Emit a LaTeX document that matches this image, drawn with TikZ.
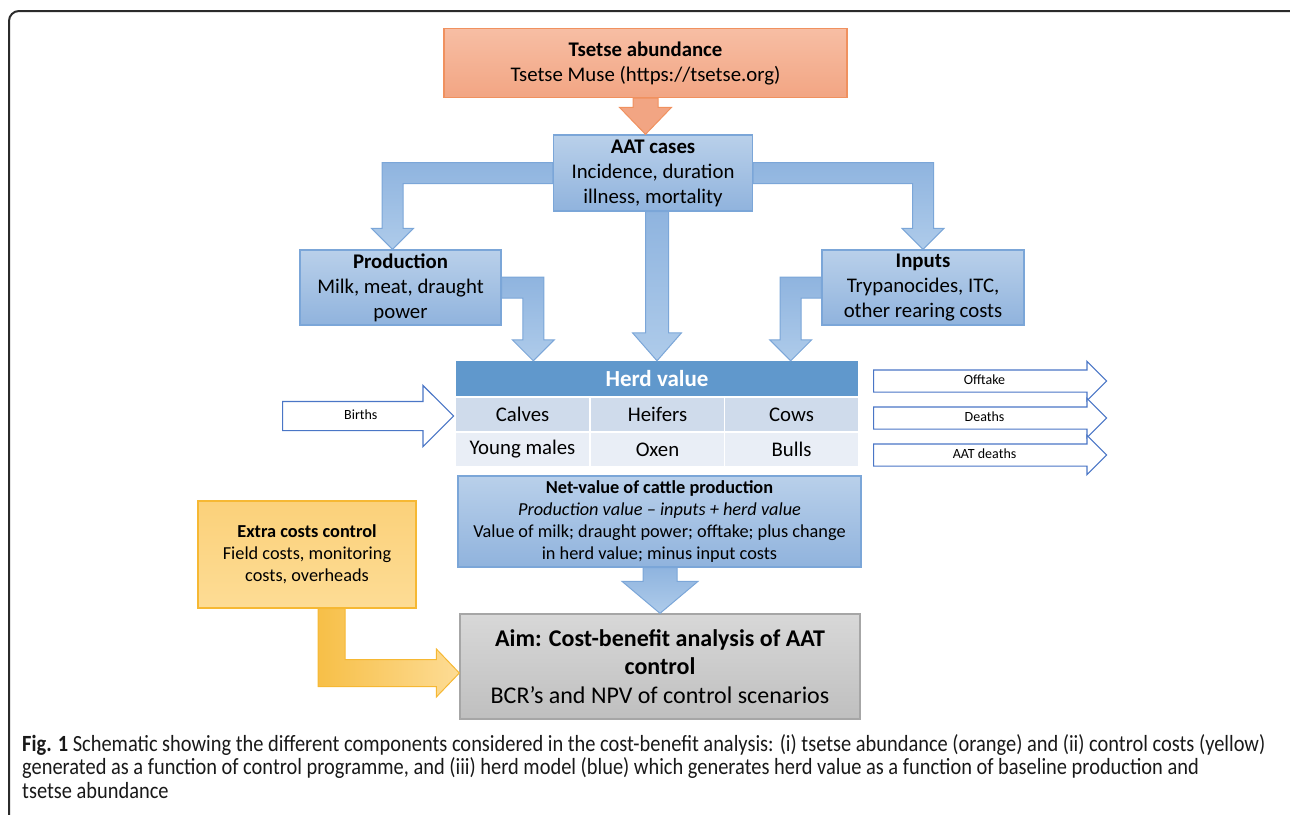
\documentclass[tikz,border=0pt]{standalone}
\usepackage{fontspec}
\setmainfont{Carlito}
\newfontfamily\capfont[FakeStretch=0.88]{Carlito}
\usepackage{tikz}
\usetikzlibrary{calc,shapes.arrows}
\definecolor{boxtop}{HTML}{B9D0EA}
\definecolor{boxbot}{HTML}{90B3DD}
\definecolor{boxline}{HTML}{7BA6D8}
\definecolor{arrtop}{HTML}{8FB4DF}
\definecolor{arrbot}{HTML}{AECBEA}
\definecolor{orangetop}{HTML}{F7BEA4}
\definecolor{orangebot}{HTML}{F2A583}
\definecolor{orangeline}{HTML}{F0915F}
\definecolor{yellowtop}{HTML}{FBD17A}
\definecolor{yellowbot}{HTML}{FDDC95}
\definecolor{yellowline}{HTML}{F6B833}
\definecolor{greytop}{HTML}{D8D8D8}
\definecolor{greybot}{HTML}{BFBFBF}
\definecolor{greyline}{HTML}{A6A6A6}
\definecolor{herdblue}{HTML}{6098CC}
\definecolor{rowa}{HTML}{CFDBEB}
\definecolor{rowb}{HTML}{E9EEF6}
\definecolor{outline}{HTML}{4A76C6}
\definecolor{framegrey}{HTML}{2B2B2B}

\begin{document}
\begin{tikzpicture}[x=1pt,y=-1pt,
  bandhalf/.store in=\bandw,headhalf/.store in=\headw,headlen/.store in=\headl,
  bandhalf=10.5pt,headhalf=21pt,headlen=21pt,
  bluebox/.style={rectangle,draw=boxline,line width=1.3pt,top color=boxtop,bottom color=boxbot,align=center,inner sep=0pt,font=\fontsize{20.8}{25}\selectfont},
  smallbox/.style={font=\fontsize{18.3}{22}\selectfont},
  cell/.style={rectangle,minimum width=133pt,minimum height=33pt,inner sep=0pt,font=\fontsize{20.8}{25}\selectfont},
  flowarrow/.style={single arrow,draw=outline,fill=white,line width=1.2pt,inner xsep=0pt,text height=10pt,text depth=3pt,font=\fontsize{14}{16}\selectfont},
  bluearrow/.style={draw=boxline,line width=1pt,top color=arrtop,bottom color=arrbot},
  elbowleft/.style={to path={let \p1=(\tikztostart),\p2=(\tikztotarget) in
    (\x1,\y1+\bandw) -- (\x2-\bandw,\y1+\bandw) -- (\x2-\bandw,\y2+\headl) -- (\x2-\headw,\y2+\headl) -- (\x2,\y2) -- (\x2+\headw,\y2+\headl) -- (\x2+\bandw,\y2+\headl) -- (\x2+\bandw,\y1-\bandw) -- (\x1,\y1-\bandw) -- cycle}},
  elbowright/.style={to path={let \p1=(\tikztostart),\p2=(\tikztotarget) in
    (\x1,\y1+\bandw) -- (\x2+\bandw,\y1+\bandw) -- (\x2+\bandw,\y2+\headl) -- (\x2+\headw,\y2+\headl) -- (\x2,\y2) -- (\x2-\headw,\y2+\headl) -- (\x2-\bandw,\y2+\headl) -- (\x2-\bandw,\y1-\bandw) -- (\x1,\y1-\bandw) -- cycle}},
  straightdown/.style={to path={let \p1=(\tikztostart),\p2=(\tikztotarget) in
    (\x2-\bandw,\y1) -- (\x2-\bandw,\y2+\headl) -- (\x2-\headw,\y2+\headl) -- (\x2,\y2) -- (\x2+\headw,\y2+\headl) -- (\x2+\bandw,\y2+\headl) -- (\x2+\bandw,\y1) -- cycle}},
  downright/.style={to path={let \p1=(\tikztostart),\p2=(\tikztotarget) in
    (\x1-\bandw,\y1) -- (\x1-\bandw,\y2-\bandw) -- (\x2-\headl,\y2-\bandw) -- (\x2-\headl,\y2-\headw) -- (\x2,\y2) -- (\x2-\headl,\y2+\headw) -- (\x2-\headl,\y2+\bandw) -- (\x1+\bandw,\y2+\bandw) -- (\x1+\bandw,\y1) -- cycle}}]
\useasboundingbox (0,0) rectangle (1290,814);
\draw[line width=2pt,draw=framegrey,rounded corners=10pt] (9,840) -- (9,11) -- (1300,11) -- (1300,840);
\node[bluebox,draw=orangeline,top color=orangetop,bottom color=orangebot,minimum width=403pt,minimum height=69pt] (tsetse) at (645.5,63) {\textbf{Tsetse abundance}\\Tsetse Muse (https://tsetse.org)};
\node[bluebox,minimum width=199pt,minimum height=76pt] (aat) at (653,173) {\textbf{AAT cases}\\Incidence, duration\\illness, mortality};
\node[bluebox,minimum width=201pt,minimum height=75pt] (prod) at (400.5,287.5) {\textbf{Production}\\Milk, meat, draught\\power};
\node[bluebox,minimum width=202pt,minimum height=75pt] (inputs) at (923,287.5) {\textbf{Inputs}\\Trypanocides, ITC,\\other rearing costs};
\node[rectangle,fill=herdblue,text=white,minimum width=402pt,minimum height=35pt,inner sep=0pt,font=\bfseries\fontsize{23}{27}\selectfont] (herdtitle) at (657,378.5) {Herd value};
\node[cell,fill=rowa] (calves) at (522.5,414.5) {Calves};
\node[cell,fill=rowa] (heifers) at (657.5,414.5) {Heifers};
\node[cell,fill=rowa] (cows) at (791.5,414.5) {Cows};
\node[cell,fill=rowb] (youngmales) at (522.5,449.5) {Young males};
\node[cell,fill=rowb] (oxen) at (657.5,449.5) {Oxen};
\node[cell,fill=rowb] (bulls) at (791.5,449.5) {Bulls};
\node[flowarrow,anchor=tail,inner ysep=7.5pt,single arrow head extend=16pt,minimum height=171pt] (births) at (282,416) {Births};
\node[flowarrow,anchor=tail,inner ysep=4pt,single arrow head extend=8.5pt,minimum height=233pt] (offtake) at (873,381) {Offtake};
\node[flowarrow,anchor=tail,inner ysep=4pt,single arrow head extend=8.5pt,minimum height=233pt] (deaths) at (873,418) {Deaths};
\node[flowarrow,anchor=tail,inner ysep=4pt,single arrow head extend=8.5pt,minimum height=233pt] (aatdeaths) at (873,455) {AAT deaths};
\node[bluebox,smallbox,minimum width=403pt,minimum height=91pt] (netval) at (659.5,521.5) {\textbf{Net-value of cattle production}\\\textit{Production value – inputs + herd value}\\Value of milk; draught power; offtake; plus change\\in herd value; minus input costs};
\node[bluebox,smallbox,draw=yellowline,top color=yellowtop,bottom color=yellowbot,minimum width=218pt,minimum height=107pt] (extra) at (307,554.5) {\textbf{Extra costs control}\\Field costs, monitoring\\costs, overheads};
\node[bluebox,draw=greyline,top color=greytop,bottom color=greybot,minimum width=400pt,minimum height=105pt,font=\fontsize{24}{28.5}\selectfont] (aim) at (660,666.5) {\textbf{Aim: Cost-benefit analysis of AAT}\\\textbf{control}\\BCR’s and NPV of control scenarios};
\draw[bluearrow,draw=orangeline,top color=orangebot,bottom color=orangebot,bandhalf=12.5pt,headhalf=26pt,headlen=27pt] (tsetse.south) to[straightdown] (tsetse.south |- aat.north);
\draw[bluearrow] (aat.west) to[elbowleft] ([xshift=-8pt]prod.north);
\draw[bluearrow] (aat.east) to[elbowright] (inputs.north);
\draw[bluearrow,bandhalf=11.5pt,headhalf=24.5pt,headlen=28pt] (aat.south) to[straightdown] (herdtitle.north);
\draw[bluearrow] (prod.east) to[elbowright] ([xshift=77.5pt]herdtitle.north west);
\draw[bluearrow] (inputs.west) to[elbowleft] ([xshift=-67.5pt]herdtitle.north east);
\draw[bluearrow,bandhalf=17pt,headhalf=38pt,headlen=32pt] (netval.south) to[straightdown] (aim.north);
\draw[draw=yellowline,line width=1pt,left color=yellowline!90,right color=yellowbot,bandhalf=13.5pt,headhalf=24pt,headlen=23pt] ([xshift=24.5pt]extra.south) to[downright] ([yshift=-6.5pt]aim.west);
\node[anchor=north west,align=left,inner sep=0pt,text=black!90,font=\capfont\fontsize{23.2}{23.5}\selectfont] (caption) at (22,734) {\textbf{Fig. 1} Schematic showing the different components considered in the cost-benefit analysis: (i) tsetse abundance (orange) and (ii) control costs (yellow)\\generated as a function of control programme, and (iii) herd model (blue) which generates herd value as a function of baseline production and\\tsetse abundance};
\end{tikzpicture}
\end{document}
